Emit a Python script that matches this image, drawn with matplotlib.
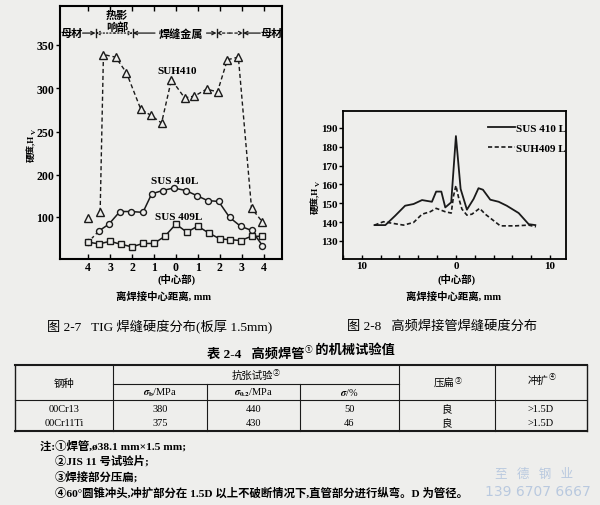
import numpy as np
import matplotlib
matplotlib.use('Agg')
import matplotlib.pyplot as plt
from matplotlib.ticker import FixedLocator, MultipleLocator, FuncFormatter
import matplotlib.transforms as mtransforms

plt.rcParams['font.family'] = ['Liberation Serif', 'Noto Sans CJK SC']
plt.rcParams['mathtext.fontset'] = 'stix'
plt.rcParams['font.weight'] = 'bold'

# ---- fig 2-7 : TIG weld hardness (x = distance from weld centre, mm)
suh410_x = [-4.0, -3.45, -3.3, -2.75, -2.25, -1.6, -1.15, -0.65, -0.2, 0.4, 0.85, 1.4, 1.9, 2.35, 2.85, 3.45, 3.95]
suh410_y = [98, 112, 339, 336, 318, 276, 269, 260, 310, 289, 291, 299, 296, 333, 336, 121, 88]
sus410l_x = [-4.0, -3.5, -3.05, -2.55, -2.05, -1.5, -1.1, -0.6, -0.1, 0.45, 0.95, 1.45, 1.95, 2.45, 2.95, 3.45, 3.95]
sus410l_y = [40, 67, 83, 113, 113, 111, 155, 163, 169, 163, 151, 139, 137, 99, 78, 68, 32]
sus409l_x = [-4.0, -3.5, -3.0, -2.5, -2.0, -1.5, -1.0, -0.5, 0.0, 0.5, 1.0, 1.5, 2.0, 2.45, 2.95, 3.45, 3.95]
sus409l_y = [40, 36, 42, 35, 29, 37, 37, 54, 83, 64, 78, 62, 48, 46, 44, 54, 54]
yticks_27 = [100, 200, 250, 300, 350]
xticks_27 = [-4, -3, -2, -1, 0, 1, 2, 3, 4]

# zone borders (mm) : base | HAZ | weld metal | HAZ | base
zone_x = [-3.66, -1.96, 1.855, 3.07]

# ---- fig 2-8 : HF welded tube hardness
s410_x = [-8.65, -7.5, -6.45, -5.4, -4.5, -3.6, -2.55, -2.1, -1.55, -1.13, -0.5, 0.0, 0.5, 1.17, 1.88, 2.4, 2.87, 3.65, 4.54, 5.4, 6.67, 7.73, 8.44]
s410_y = [138.4, 138.4, 143.4, 148.7, 149.6, 151.7, 150.8, 156.2, 156.2, 147.8, 150.5, 185.7, 157.6, 146.6, 152.3, 158, 157.2, 151.9, 150.8, 148.7, 144.8, 138.9, 138.4]
s409_x = [-8.65, -7.7, -6.8, -5.57, -4.5, -3.6, -2.73, -2.1, -1.13, -0.5, -0.25, 0.0, 0.28, 0.64, 1.17, 1.7, 2.52, 3.12, 4.72, 6.3, 7.73, 8.5]
s409_y = [138.4, 140.2, 139.4, 138.4, 139.8, 144.2, 145.5, 147.3, 145.5, 144.8, 154, 159.4, 153.1, 146.9, 143.7, 144.2, 147.3, 144.2, 138, 138, 138.4, 137.5]
yticks_28 = [130, 140, 150, 160, 170, 180, 190]

# ---- table 2-4
tbl_steel = ['00Cr13', '00Cr11Ti']
tbl_sb = ['380', '375']
tbl_s02 = ['440', '430']
tbl_delta = ['50', '46']
tbl_flat = ['良', '良']
tbl_expand = ['>1.5D', '>1.5D']

notes = ['注:①焊管,ø38.1 mm×1.5 mm;',
         '②JIS 11 号试验片;',
         '③焊接部分压扁;',
         '④60°圆锥冲头,冲扩部分在 1.5D 以上不破断情况下,直管部分进行纵弯。D 为管径。']

paper = '#eeeeec'
ink = '#1a1a1a'

fig = plt.figure(figsize=(6, 5.06), dpi=100, facecolor=paper)


# broken y scale of fig 2-7 (below 200 is compressed)
def fwd(v):
    v = np.asarray(v, float)
    return np.where(v <= 200, v * 0.42, 84 + (v - 200) * 0.866)


def inv(p):
    p = np.asarray(p, float)
    return np.where(p <= 84, p / 0.42, 200 + (p - 84) / 0.866)


absfmt = FuncFormatter(lambda v, pos: '%d' % abs(round(v)))

# ================= fig 2-7
ax1 = fig.add_axes([60 / 600, 1 - 260 / 506, 222 / 600, 253 / 506])
ax1.set_facecolor('none')
ax1.set_yscale('function', functions=(fwd, inv))
ax1.set_xlim(-5.28, 4.84)
ax1.set_ylim(0, 395)

ax1.plot(suh410_x[1:], suh410_y[1:], ls=(0, (3, 2)), color=ink, lw=1.0)
ax1.plot(suh410_x, suh410_y, ls='none', marker='^', ms=5.5, mfc=paper, mec=ink, mew=1.0)
ax1.plot(sus410l_x[:2], sus410l_y[:2], ls=(0, (2, 2)), color=ink, lw=1.0)
ax1.plot(sus410l_x[1:], sus410l_y[1:], ls='-', color=ink, lw=1.1)
ax1.plot(sus410l_x, sus410l_y, ls='none', marker='o', ms=4.3, mfc=paper, mec=ink, mew=1.0)
ax1.plot(sus409l_x, sus409l_y, ls='-', color=ink, lw=1.1, marker='s', ms=4.3, mfc=paper, mec=ink, mew=1.0)

ax1.text(0.05, 321, 'SUH410', ha='center', va='center', fontsize=8)
ax1.text(-0.05, 186, 'SUS 410L', ha='center', va='center', fontsize=8)
ax1.text(0.15, 102, 'SUS 409L', ha='center', va='center', fontsize=8)

ax1.xaxis.set_major_locator(FixedLocator(xticks_27))
ax1.xaxis.set_major_formatter(absfmt)
ax1.yaxis.set_major_locator(FixedLocator(yticks_27))
ax1.yaxis.set_minor_locator(FixedLocator([]))
ax1.tick_params(axis='x', direction='in', top=True, length=3.5, width=1, labelsize=8.5, pad=1.5)
ax1.tick_params(axis='y', direction='out', length=3, width=1, labelsize=8.5, pad=1)
for s in ax1.spines.values():
    s.set_linewidth(1.5)

# zone header
trans = mtransforms.blended_transform_factory(ax1.transData, ax1.transAxes)
hy = 0.893
for zx in zone_x:
    ax1.plot([zx, zx], [hy - 0.017, hy + 0.017], color=ink, lw=1.0, transform=trans)


def arrow(x0, x1, ls='-'):
    ax1.annotate('', xy=(x1, hy), xytext=(x0, hy), xycoords=trans, textcoords=trans,
                 arrowprops=dict(arrowstyle='->', lw=0.9, color=ink, linestyle=ls,
                                 shrinkA=0, shrinkB=0, mutation_scale=6))


hf = 8
ax1.text(-4.76, hy, '母材', transform=trans, ha='center', va='center', fontsize=hf)
arrow(-4.25, zone_x[0])
arrow(-2.8, zone_x[0], ':')
arrow(-2.8, zone_x[1], ':')
ax1.text(-2.67, 0.965, '热影', transform=trans, ha='center', va='center', fontsize=hf)
ax1.text(-2.67, 0.918, '响部', transform=trans, ha='center', va='center', fontsize=hf)
ax1.text(0.23, hy, '焊缝金属', transform=trans, ha='center', va='center', fontsize=hf)
arrow(-0.95, zone_x[1])
arrow(1.4, zone_x[2])
mid = (zone_x[2] + zone_x[3]) / 2
arrow(mid, zone_x[2], (0, (2, 2)))
arrow(mid, zone_x[3], (0, (2, 2)))
arrow(3.85, zone_x[3])
ax1.text(4.35, hy, '母材', transform=trans, ha='center', va='center', fontsize=hf)

# ================= fig 2-8
ax2 = fig.add_axes([343 / 600, 1 - 260 / 506, 223 / 600, 148 / 506])
ax2.set_facecolor('none')
ax2.plot(s410_x, s410_y, ls='-', color=ink, lw=1.3, label='SUS 410 L')
ax2.plot(s409_x, s409_y, ls=(0, (2.5, 1.5)), color=ink, lw=1.2, label='SUH409 L')
ax2.set_xlim(-12, 11.7)
ax2.set_ylim(120.4, 199)
ax2.xaxis.set_major_locator(FixedLocator([-10, 0, 10]))
ax2.xaxis.set_minor_locator(MultipleLocator(2))
ax2.xaxis.set_major_formatter(absfmt)
ax2.yaxis.set_major_locator(FixedLocator(yticks_28))
ax2.tick_params(axis='x', which='both', direction='in', length=3, width=1, labelsize=8, pad=1.5)
ax2.tick_params(axis='y', direction='out', length=3, width=1, labelsize=8, pad=1)
for s in ax2.spines.values():
    s.set_linewidth(1.3)
ax2.legend(loc='upper right', bbox_to_anchor=(1.03, 0.96), frameon=False, fontsize=8,
           handlelength=2.4, handletextpad=0.1, labelspacing=0.85, borderaxespad=0.2)

# ================= page overlay (pixel coordinates)
page = fig.add_axes([0, 0, 1, 1], zorder=5)
page.set_xlim(0, 600)
page.set_ylim(506, 0)
page.axis('off')


def ylabel(x, y):
    t = page.text(x, y, '硬度,H', rotation=90, ha='center', va='center', fontsize=6.5)
    page.annotate('V', xy=(1, 1), xycoords=t, rotation=90, ha='right', va='bottom', fontsize=5)


ylabel(32, 148)
ylabel(316, 200)
page.text(177, 279, '(中心部)', ha='center', va='center', fontsize=7.5)
page.text(164, 297, '离焊接中心距离, mm', ha='center', va='center', fontsize=7.5)
page.text(457, 279, '(中心部)', ha='center', va='center', fontsize=7.5)
page.text(453, 297, '离焊接中心距离, mm', ha='center', va='center', fontsize=7.5)

page.text(47, 327, '图 2-7   TIG 焊缝硬度分布(板厚 1.5mm)', ha='left', va='center',
          fontsize=9.5, fontweight='normal')
page.text(347, 327, '图 2-8   高频焊接管焊缝硬度分布', ha='left', va='center',
          fontsize=9.5, fontweight='normal')

t = page.text(207, 355, '表 2-4   高频焊管', ha='left', va='center', fontsize=9.5)
t = page.annotate('①', xy=(1, 0.55), xycoords=t, ha='left', va='bottom', fontsize=5.5)
page.annotate(' 的机械试验值', xy=(1, -0.25), xycoords=t, ha='left', va='bottom', fontsize=9.5)

# table grid
cols = [15, 113, 207, 300, 399, 495, 587]
y_top, y_sub, y_head, y_bot = 366, 385, 401, 432
page.plot([cols[0], cols[-1]], [y_top, y_top], color=ink, lw=1.5)
page.plot([cols[0], cols[-1]], [y_bot, y_bot], color=ink, lw=1.5)
page.plot([cols[0], cols[-1]], [y_head, y_head], color=ink, lw=0.8)
page.plot([cols[1], cols[4]], [y_sub, y_sub], color=ink, lw=0.8)
for i, cx in enumerate(cols):
    top = y_sub if i in (2, 3) else y_top
    page.plot([cx, cx], [top, y_bot], color=ink, lw=1.0 if i in (0, 6) else 0.8)

ctr = [(cols[i] + cols[i + 1]) / 2 for i in range(6)]
tk = dict(ha='center', va='center', fontsize=7.5, fontweight='normal')
page.text(ctr[0], (y_top + y_head) / 2, '钢种', **tk)
t = page.text((cols[1] + cols[4]) / 2 - 4, (y_top + y_sub) / 2, '抗张试验', **tk)
page.annotate('②', xy=(1, 0.5), xycoords=t, ha='left', va='bottom', fontsize=5, fontweight='normal')
page.text(ctr[1], (y_sub + y_head) / 2, r'$\sigma_\mathrm{b}$/MPa', **tk)
page.text(ctr[2], (y_sub + y_head) / 2, r'$\sigma_{0.2}$/MPa', **tk)
page.text(ctr[3], (y_sub + y_head) / 2, r'$\sigma$/%', **tk)
t = page.text(ctr[4] - 3, (y_top + y_head) / 2, '压扁', **tk)
page.annotate('③', xy=(1, 0.5), xycoords=t, ha='left', va='bottom', fontsize=5, fontweight='normal')
t = page.text(ctr[5] - 3, (y_top + y_head) / 2 - 3, '冲扩', **tk)
page.annotate('④', xy=(1, 0.5), xycoords=t, ha='left', va='bottom', fontsize=5, fontweight='normal')

row_y = [410, 424]
for r in range(2):
    vals = [tbl_steel[r], tbl_sb[r], tbl_s02[r], tbl_delta[r], tbl_flat[r], tbl_expand[r]]
    for c, v in enumerate(vals):
        page.text(ctr[c], row_y[r], v, **tk)

note_x = [40, 55, 55, 55]
note_y = [446, 461, 477, 493]
for nx, ny, s in zip(note_x, note_y, notes):
    page.text(nx, ny, s, ha='left', va='center', fontsize=8.2)

# watermark
page.text(534, 475, '至   德   钢   业', ha='center', va='center', fontsize=9,
          color='#b9c9df', fontweight='normal')
page.text(538, 492, '139 6707 6667', ha='center', va='center', fontsize=10,
          color='#b9c9df', fontweight='normal', family='DejaVu Sans')

fig.savefig('out.png', dpi=100, facecolor=paper)
